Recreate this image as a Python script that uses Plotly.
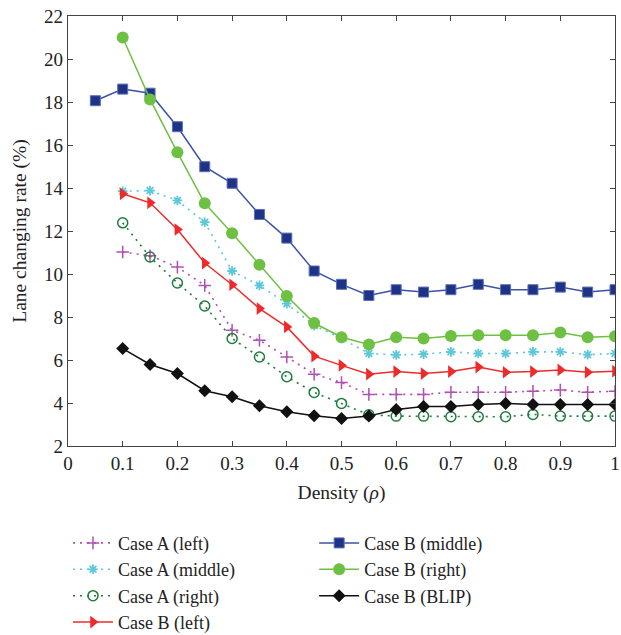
import plotly.graph_objects as go

x_full = [0.1, 0.15, 0.2, 0.25, 0.3, 0.35, 0.4, 0.45, 0.5, 0.55, 0.6, 0.65, 0.7, 0.75, 0.8, 0.85, 0.9, 0.95, 1.0]
x_blue = [0.05] + x_full

a_left = [11.02, 10.85, 10.32, 9.47, 7.38, 6.92, 6.14, 5.34, 4.95, 4.4, 4.4, 4.4, 4.5, 4.5, 4.5, 4.55, 4.6, 4.5, 4.55]
a_middle = [13.85, 13.88, 13.42, 12.41, 10.14, 9.47, 8.62, 7.61, 7.0, 6.3, 6.24, 6.27, 6.38, 6.3, 6.3, 6.38, 6.38, 6.25, 6.3]
a_right = [12.38, 10.79, 9.58, 8.51, 7.0, 6.14, 5.22, 4.49, 3.98, 3.45, 3.39, 3.39, 3.36, 3.36, 3.36, 3.47, 3.39, 3.39, 3.39]
b_left = [13.73, 13.31, 12.07, 10.51, 9.5, 8.39, 7.54, 6.18, 5.75, 5.34, 5.46, 5.37, 5.46, 5.67, 5.43, 5.46, 5.54, 5.43, 5.48]
b_middle = [18.06, 18.6, 18.41, 16.85, 14.99, 14.22, 12.77, 11.67, 10.14, 9.52, 9.0, 9.27, 9.16, 9.27, 9.52, 9.27, 9.27, 9.39, 9.16, 9.27]
b_right = [21.0, 18.12, 15.66, 13.29, 11.9, 10.43, 8.98, 7.72, 7.06, 6.72, 7.06, 7.0, 7.12, 7.15, 7.15, 7.15, 7.28, 7.06, 7.1]
b_blip = [6.53, 5.79, 5.37, 4.57, 4.29, 3.87, 3.59, 3.41, 3.28, 3.39, 3.7, 3.84, 3.84, 3.93, 3.98, 3.93, 3.93, 3.93, 3.93]

x_ticks = [0, 0.1, 0.2, 0.3, 0.4, 0.5, 0.6, 0.7, 0.8, 0.9, 1]
x_tick_text = ["0", "0.1", "0.2", "0.3", "0.4", "0.5", "0.6", "0.7", "0.8", "0.9", "1"]
y_ticks = [2, 4, 6, 8, 10, 12, 14, 16, 18, 20, 22]

FONT = "Liberation Serif"
DOT = "2px,5px"

fig = go.Figure()

fig.add_trace(go.Scatter(x=x_full, y=a_left, name="Case A (left)", mode="lines+markers",
                         line=dict(color="#B050B0", width=1.6, dash=DOT),
                         marker=dict(symbol="cross-thin-open", size=9, line=dict(color="#B050B0", width=1.5)),
                         legend="legend"))
fig.add_trace(go.Scatter(x=x_full, y=a_middle, name="Case A (middle)", mode="lines+markers",
                         line=dict(color="#5CC8DA", width=1.6, dash=DOT),
                         marker=dict(symbol="asterisk-open", size=8, line=dict(color="#5CC8DA", width=1.8)),
                         legend="legend"))
fig.add_trace(go.Scatter(x=x_full, y=a_right, name="Case A (right)", mode="lines+markers",
                         line=dict(color="#1E7D3C", width=1.6, dash=DOT),
                         marker=dict(symbol="circle-open", size=10, line=dict(color="#1E7D3C", width=1.5)),
                         legend="legend"))
fig.add_trace(go.Scatter(x=x_full, y=b_left, name="Case B (left)", mode="lines+markers",
                         line=dict(color="#EE2A2A", width=1.5),
                         marker=dict(symbol="triangle-right", size=11, color="#EE2A2A"),
                         legend="legend"))
fig.add_trace(go.Scatter(x=x_blue, y=b_middle, name="Case B (middle)", mode="lines+markers",
                         line=dict(color="#3B52A4", width=1.5),
                         marker=dict(symbol="square", size=10, color="#1F3386", line=dict(color="#5A6EB8", width=1)),
                         legend="legend2"))
fig.add_trace(go.Scatter(x=x_full, y=b_right, name="Case B (right)", mode="lines+markers",
                         line=dict(color="#6EC043", width=1.5),
                         marker=dict(symbol="circle", size=12, color="#6EC043"),
                         legend="legend2"))
fig.add_trace(go.Scatter(x=x_full, y=b_blip, name="Case B (BLIP)", mode="lines+markers",
                         line=dict(color="#111111", width=1.5),
                         marker=dict(symbol="diamond", size=10, color="#111111"),
                         legend="legend2"))

axis_common = dict(showline=True, linecolor="#444444", linewidth=1.2, mirror="ticks",
                   ticks="inside", ticklen=5, tickcolor="#444444", showgrid=False, zeroline=False,
                   automargin=False,
                   tickfont=dict(family=FONT, size=19, color="#222222"))

fig.update_layout(
    width=621, height=635,
    margin=dict(l=68, r=6, t=16, b=189, autoexpand=False),
    paper_bgcolor="white", plot_bgcolor="white",
    font=dict(family=FONT, size=19, color="#222222"),
    xaxis=dict(range=[0, 1], tickvals=x_ticks, ticktext=x_tick_text,
               title=dict(text="Density (<i>ρ</i>)", font=dict(family=FONT, size=19.5), standoff=12),
               **axis_common),
    yaxis=dict(range=[2, 22], tickvals=y_ticks,
               title=dict(text="Lane changing rate (%)", font=dict(family=FONT, size=19.5), standoff=12),
               **axis_common),
    legend=dict(x=0.0, y=-0.183, xanchor="left", yanchor="top", orientation="v",
                bgcolor="rgba(0,0,0,0)", font=dict(family=FONT, size=18), tracegroupgap=0,
                itemwidth=40),
    legend2=dict(x=0.45, y=-0.183, xanchor="left", yanchor="top", orientation="v",
                 bgcolor="rgba(0,0,0,0)", font=dict(family=FONT, size=18), tracegroupgap=0,
                 itemwidth=40),
)

fig.write_html("out.html")
